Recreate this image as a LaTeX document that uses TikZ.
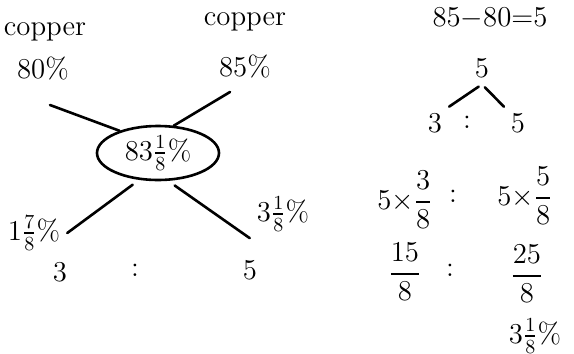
\documentclass[tikz,border=0pt]{standalone}
\usepackage{amsmath}
\usepackage{tikz}
\usetikzlibrary{shapes.geometric, positioning}

\begin{document}
\begin{tikzpicture}[x=0.5pt, y=-0.5pt, every node/.style={font=\Large}]
    \tikzset{hand/.style={line width=1.3pt, line cap=round},
             mixnode/.style={ellipse, draw, line width=1.3pt, minimum width=61pt,
                             minimum height=22pt, inner sep=1pt}}
    \useasboundingbox (0,0) rectangle (574,354);
    % alloy diagram
    \node (cl) at (45,32) {copper};
    \node (cr) at (245,22) {copper};
    \node (pl) at (43,68) {$80\%$};
    \node (pr) at (245,66) {$85\%$};
    \node[mixnode] (mix) at (158,153) {$83\tfrac{1}{8}\%$};
    \coordinate (l1) at (50,105);
    \coordinate (r1) at (230,92);
    \node (dl) at (34,233) {$1\tfrac{7}{8}\%$};
    \node (dr) at (283,214) {$3\tfrac{1}{8}\%$};
    \draw[hand] (l1) -- (mix.150);
    \draw[hand] (r1) -- (mix.60);
    \draw[hand, shorten <=4pt] (mix.235) -- (dl.east);
    \draw[hand, shorten <=4pt] (mix.290) -- (dr.south west);
    \node (ra) at (60,272) {$3$};
    \node (rc) at (135,270) {$:$};
    \node (rb) at (250,270) {$5$};
    % working
    \node (eq) at (490,18) {$85{-}80{=}5$};
    \node (t5) at (482,68) {$5$};
    \node (ta) at (435,123) {$3$};
    \node (tc) at (467,122) {$:$};
    \node (tb) at (518,123) {$5$};
    \draw[hand, shorten >=2pt] (ta.north east) -- (t5.south);
    \draw[hand, shorten <=2pt] (t5.south) -- (tb.north west);
    \node (ma) at (405,200) {$5{\times}\dfrac{3}{8}$};
    \node (mc) at (453,196) {$:$};
    \node (mb) at (525,196) {$5{\times}\dfrac{5}{8}$};
    \node (fa) at (405,272) {$\dfrac{15}{8}$};
    \node (fc) at (450,270) {$:$};
    \node (fb) at (527,274) {$\dfrac{25}{8}$};
    \node (ans) at (535,336) {$3\tfrac{1}{8}\%$};
\end{tikzpicture}
\end{document}
